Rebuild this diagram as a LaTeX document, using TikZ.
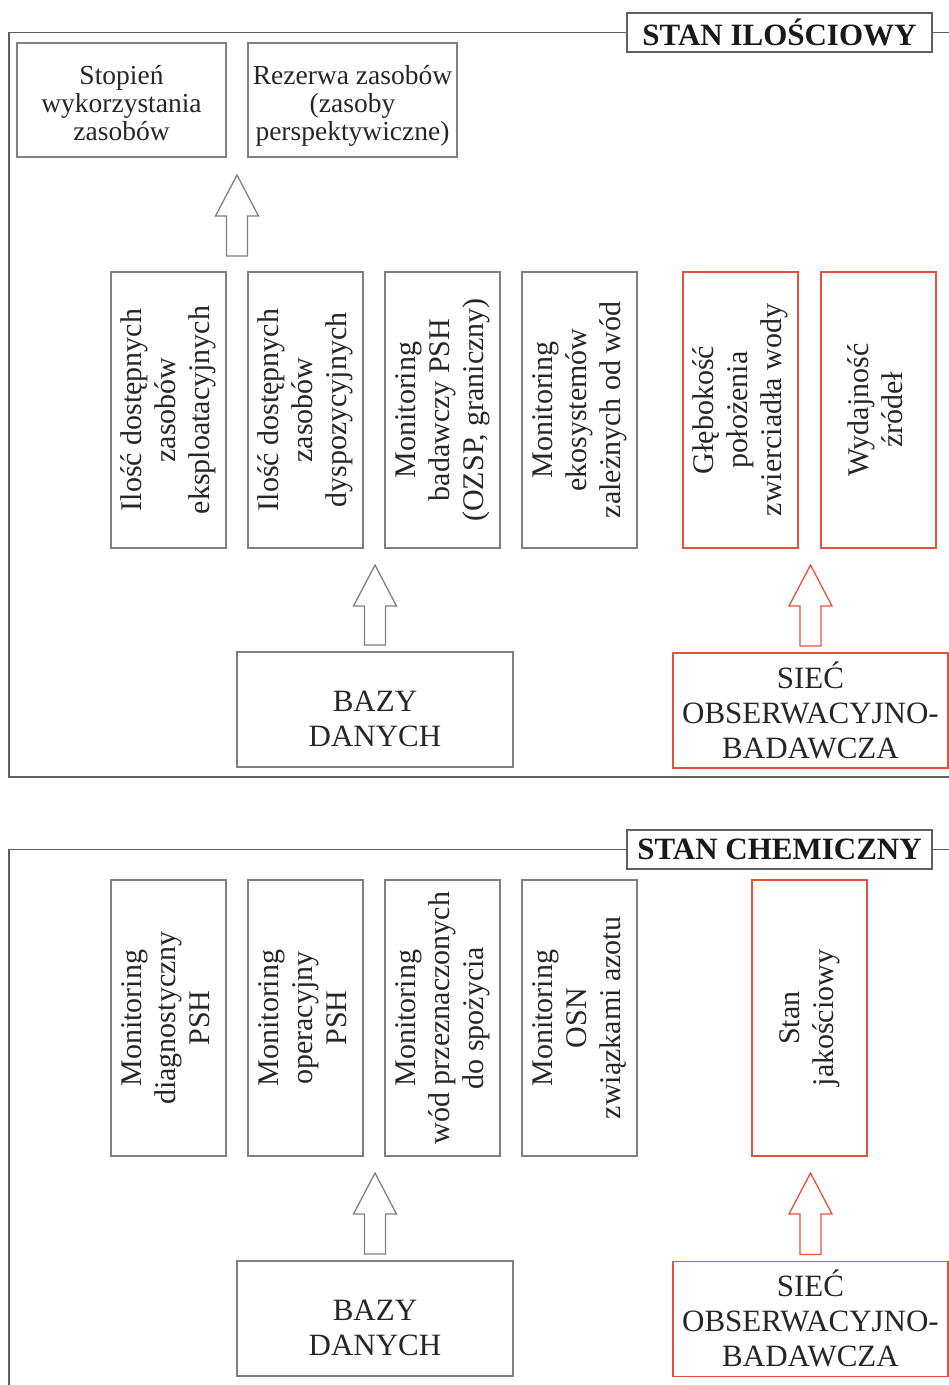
\documentclass[tikz,border=0pt]{standalone}
\usepackage{fontspec}
\setmainfont{Liberation Serif}
\usepackage{graphicx}
\usetikzlibrary{positioning,calc}

\definecolor{boxgray}{RGB}{128,128,128}
\definecolor{netred}{RGB}{228,82,62}
\definecolor{framegray}{RGB}{95,95,95}

% rotated multi-line label for the tall boxes
\newcommand{\vtext}[1]{\rotatebox{90}{\begin{tabular}{@{}c@{}}#1\end{tabular}}}
% hollow block arrow pointing up: colour, foot, tip
\newcommand{\hollowup}[3]{%
  \draw[#1, line width=1.3pt, fill=white] let \p1=(#2), \p2=(#3) in
    (\x1-10.5pt,\y1) -- (\x1-10.5pt,\y2-41pt) -- (\x1-21.5pt,\y2-41pt) -- (\x2,\y2)
    -- (\x1+21.5pt,\y2-41pt) -- (\x1+10.5pt,\y2-41pt) -- (\x1+10.5pt,\y1) -- cycle;}

\begin{document}
\begin{tikzpicture}[
    x=1pt, y=-1pt,
    font=\fontsize{30}{34}\selectfont,
    box/.style={draw=boxgray, line width=1.3pt, inner sep=0pt, outer sep=0pt,
                align=center, text=black!85},
    redbox/.style={box, draw=netred},
    tallbox/.style={box, minimum width=115pt, minimum height=276pt},
    topbox/.style={box, minimum width=209pt, minimum height=114pt,
                   font=\fontsize{27.5}{28}\selectfont,
                   text height=81pt, text depth=1pt},
    widebox/.style={minimum width=276pt, minimum height=115pt,
                    font=\fontsize{31}{35}\selectfont},
    title/.style={draw=framegray, line width=1.6pt, fill=white, inner sep=0pt,
                  outer sep=0pt, font=\fontsize{31}{34}\selectfont\bfseries,
                  text=black!90, minimum width=305pt, minimum height=39pt},
    frame/.style={framegray, line width=1.8pt},
  ]
  \useasboundingbox (0,0) rectangle (949,1385);

  % ===== STAN ILOSCIOWY =====
  \node[title] (ilosc) at (779.5,32.5) {STAN ILOŚCIOWY};
  \draw[frame] (ilosc.west) -| (9,777) -- (949,777);
  \draw[frame] (ilosc.east) -- (949,32.5);

  % --- result boxes (top) ---
  \node[topbox] (stopien) at (121.5,100) {Stopień\\wykorzystania\\zasobów};
  \node[topbox, right=22pt of stopien] (rezerwa) {Rezerwa zasobów\\(zasoby\\perspektywiczne)};

  % --- tall boxes ---
  \node[tallbox] (eksp) at (168.5,410) {\vtext{Ilość dostępnych\\zasobów\\eksploatacyjnych}};
  \node[tallbox, right=22pt of eksp] (dysp) {\vtext{Ilość dostępnych\\zasobów\\dyspozycyjnych}};
  \node[tallbox, right=22pt of dysp] (badaw) {\vtext{Monitoring\\badawczy PSH\\(OZSP, graniczny)}};
  \node[tallbox, right=22pt of badaw] (ekos) {\vtext{Monitoring\\ekosystemów\\zależnych od wód}};
  \node[tallbox, redbox, right=46pt of ekos] (glebok) {\vtext{Głębokość\\położenia\\zwierciadła wody}};
  \node[tallbox, redbox, right=23pt of glebok] (wydaj) {\vtext{Wydajność\\źródeł}};

  % --- sources (bottom) ---
  \node[box, widebox, text height=73pt, text depth=0pt] (bazy1) at (375,709.5) {BAZY\\DANYCH};
  \node[redbox, widebox, minimum width=275pt, text height=95pt, text depth=0pt]
    (siec1) at (810.5,710.5) {SIEĆ\\OBSERWACYJNO-\\BADAWCZA};

  % --- arrows ---
  \coordinate (a1foot) at ($(eksp.north east)!0.5!(dysp.north west)+(0,-16)$);
  \coordinate (a1tip) at ($(stopien.south east)!0.5!(rezerwa.south west)+(0,18)$);
  \hollowup{boxgray}{a1foot}{a1tip}
  \coordinate (a2foot) at ($(bazy1.north)+(0,-7)$);
  \coordinate (a2tip) at ($(bazy1.north |- dysp.south)+(0,17)$);
  \hollowup{boxgray}{a2foot}{a2tip}
  \coordinate (a3foot) at ($(siec1.north)+(0,-7)$);
  \coordinate (a3tip) at ($(siec1.north |- glebok.south)+(0,17)$);
  \hollowup{netred}{a3foot}{a3tip}

  % ===== STAN CHEMICZNY =====
  \node[title] (chem) at (779.5,849.5) {STAN CHEMICZNY};
  \draw[frame] (chem.west) -| (9,1385);
  \draw[frame] (chem.east) -- (949,849.5);

  % --- tall boxes ---
  \node[tallbox] (diagn) at (168.5,1018) {\vtext{Monitoring\\diagnostyczny\\PSH}};
  \node[tallbox, right=22pt of diagn] (operac) {\vtext{Monitoring\\operacyjny\\PSH}};
  \node[tallbox, right=22pt of operac] (spozyc) {\vtext{Monitoring\\wód przeznaczonych\\do spożycia}};
  \node[tallbox, right=22pt of spozyc] (osn) {\vtext{Monitoring\\OSN\\związkami azotu}};
  \node[tallbox, redbox, right=115pt of osn] (jakosc) {\vtext{Stan\\jakościowy}};

  % --- sources (bottom) ---
  \node[box, widebox, text height=73pt, text depth=0pt] (bazy2) at (375,1318.5) {BAZY\\DANYCH};
  \node[redbox, widebox, minimum width=275pt, text height=95pt, text depth=0pt]
    (siec2) at (810.5,1319) {SIEĆ\\OBSERWACYJNO-\\BADAWCZA};

  % --- arrows ---
  \coordinate (a4foot) at ($(bazy2.north)+(0,-7)$);
  \coordinate (a4tip) at ($(bazy2.north |- operac.south)+(0,17)$);
  \hollowup{boxgray}{a4foot}{a4tip}
  \coordinate (a5foot) at ($(siec2.north)+(0,-7)$);
  \coordinate (a5tip) at ($(siec2.north |- jakosc.south)+(0,17)$);
  \hollowup{netred}{a5foot}{a5tip}
\end{tikzpicture}
\end{document}
